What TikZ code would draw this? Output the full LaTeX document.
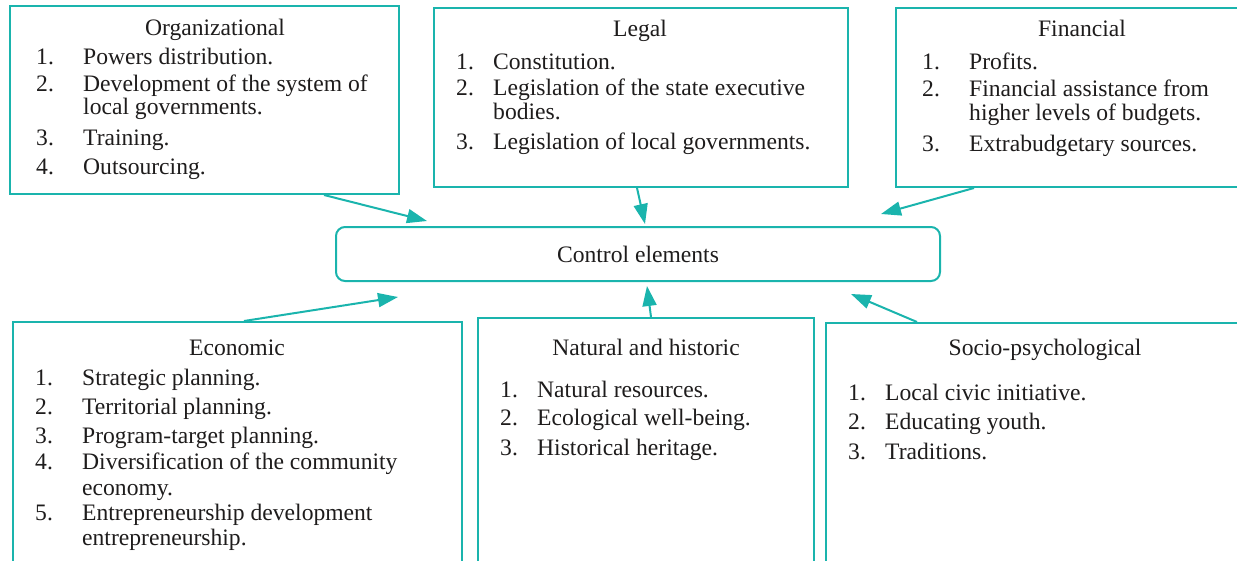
\documentclass[tikz,border=0pt]{standalone}
\usepackage{fontspec}
\setmainfont{Liberation Serif}
\usetikzlibrary{arrows.meta,fit,calc}
\definecolor{teal1}{RGB}{26,180,173}
\definecolor{textc}{RGB}{30,28,28}
\tikzset{
  box/.style={draw=teal1, line width=2pt, inner sep=0pt},
  cbox/.style={draw=teal1, line width=2pt, rounded corners=9pt, inner sep=0pt},
  txt/.style={anchor=base west, inner sep=0pt, text=textc, font=\fontsize{23.6}{28}\selectfont},
  ttl/.style={anchor=base, inner sep=0pt, text=textc, font=\fontsize{23.6}{28}\selectfont},
  arr/.style={draw=teal1, line width=2pt, -{Triangle[length=20pt,width=14pt]}}
}
\begin{document}
\begin{tikzpicture}[x=1pt,y=-1pt]
\useasboundingbox (0,0) rectangle (1237,560);
% boxes
\node[box, fit={(10,6) (399,194)}] (org) {};
\node[box, fit={(434,8) (848,187)}] (leg) {};
\node[box, fit={(896,8) (1240,187)}] (fin) {};
\node[cbox, fit={(336,227) (940,281)}] (ctl) {};
\node[box, fit={(13,322) (462,570)}] (eco) {};
\node[box, fit={(478,318) (814,570)}] (nat) {};
\node[box, fit={(826,323) (1240,570)}] (soc) {};
% control text
\node[ttl, anchor=center] (ctlt) at (638,254) {Control elements};
% Organizational
\node[ttl] (orgt) at (215,35) {Organizational};
\node[txt] (o1n) at (36,64) {1.};  \node[txt] (o1) at (83,64) {Powers distribution.};
\node[txt] (o2n) at (36,91) {2.};  \node[txt] (o2) at (83,91) {Development of the system of};
\node[txt] (o2b) at (83,114) {local governments.};
\node[txt] (o3n) at (36,145) {3.}; \node[txt] (o3) at (83,145) {Training.};
\node[txt] (o4n) at (36,174) {4.}; \node[txt] (o4) at (83,174) {Outsourcing.};
% Legal
\node[ttl] (legt) at (640,36) {Legal};
\node[txt] (l1n) at (456,69) {1.};  \node[txt] (l1) at (493,69) {Constitution.};
\node[txt] (l2n) at (456,95) {2.};  \node[txt] (l2) at (493,95) {Legislation of the state executive};
\node[txt] (l2b) at (493,119) {bodies.};
\node[txt] (l3n) at (456,149) {3.}; \node[txt] (l3) at (493,149) {Legislation of local governments.};
% Financial
\node[ttl] (fint) at (1082,36) {Financial};
\node[txt] (f1n) at (922,69) {1.};  \node[txt] (f1) at (969,69) {Profits.};
\node[txt] (f2n) at (922,96) {2.};  \node[txt] (f2) at (969,96) {Financial assistance from};
\node[txt] (f2b) at (969,120) {higher levels of budgets.};
\node[txt] (f3n) at (922,151) {3.}; \node[txt] (f3) at (969,151) {Extrabudgetary sources.};
% Economic
\node[ttl] (ecot) at (237,355) {Economic};
\node[txt] (e1n) at (35,385) {1.}; \node[txt] (e1) at (82,385) {Strategic planning.};
\node[txt] (e2n) at (35,414) {2.}; \node[txt] (e2) at (82,414) {Territorial planning.};
\node[txt] (e3n) at (35,443) {3.}; \node[txt] (e3) at (82,443) {Program-target planning.};
\node[txt] (e4n) at (35,469) {4.}; \node[txt] (e4) at (82,469) {Diversification of the community};
\node[txt] (e4b) at (82,495) {economy.};
\node[txt] (e5n) at (35,520) {5.}; \node[txt] (e5) at (82,520) {Entrepreneurship development};
\node[txt] (e5b) at (82,545) {entrepreneurship.};
% Natural and historic
\node[ttl] (natt) at (646,355) {Natural and historic};
\node[txt] (n1n) at (500,397) {1.}; \node[txt] (n1) at (537,397) {Natural resources.};
\node[txt] (n2n) at (500,425) {2.}; \node[txt] (n2) at (537,425) {Ecological well-being.};
\node[txt] (n3n) at (500,455) {3.}; \node[txt] (n3) at (537,455) {Historical heritage.};
% Socio-psychological
\node[ttl] (soct) at (1045,355) {Socio-psychological};
\node[txt] (s1n) at (848,400) {1.}; \node[txt] (s1) at (885,400) {Local civic initiative.};
\node[txt] (s2n) at (848,429) {2.}; \node[txt] (s2) at (885,429) {Educating youth.};
\node[txt] (s3n) at (848,459) {3.}; \node[txt] (s3) at (885,459) {Traditions.};
% arrow targets
\coordinate (tOrg) at (427,221);
\coordinate (tLeg) at (645,224);
\coordinate (tFin) at (881,214);
\coordinate (tEco) at (398,297);
\coordinate (tNat) at (647,286);
\coordinate (tSoc) at (851,294);
% arrows
\draw[arr] ($(org.south west)+(315,0)$) -- (tOrg);
\draw[arr] ($(leg.south west)+(204,0)$) -- (tLeg);
\draw[arr] ($(fin.south west)+(79,0)$) -- (tFin);
\draw[arr] ($(eco.north west)+(232,0)$) -- (tEco);
\draw[arr] ($(nat.north west)+(174,0)$) -- (tNat);
\draw[arr] ($(soc.north west)+(92,0)$) -- (tSoc);
\end{tikzpicture}
\end{document}
